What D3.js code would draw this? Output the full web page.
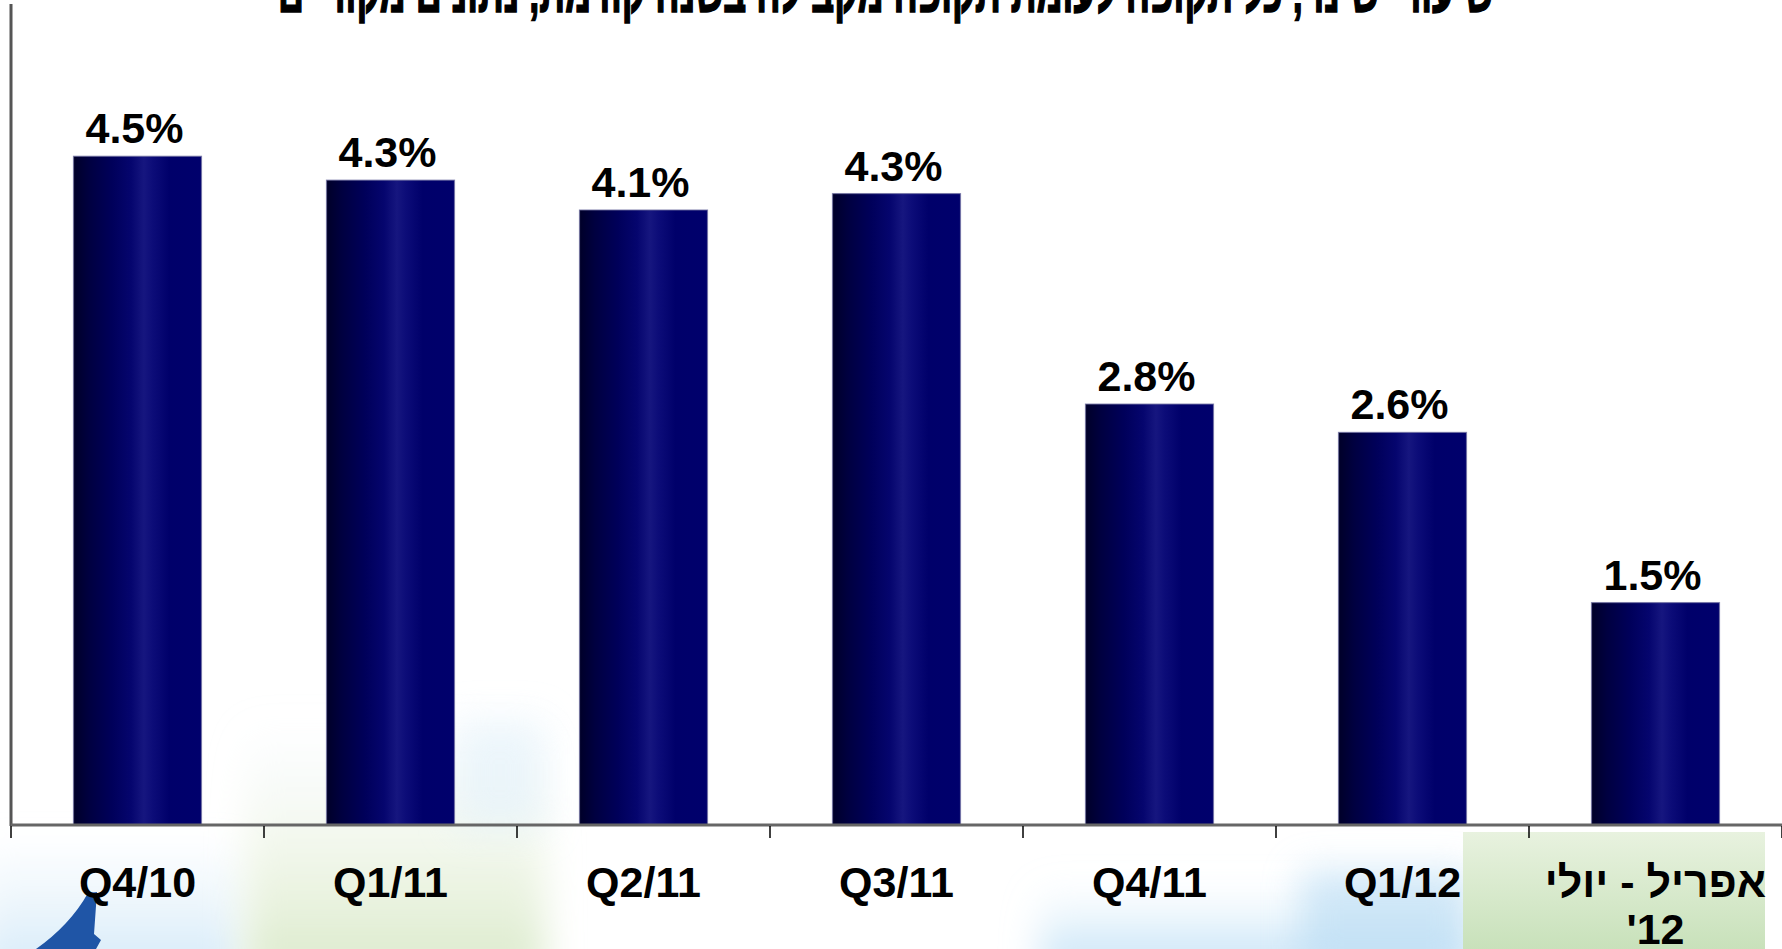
<!DOCTYPE html>
<html>
<head>
<meta charset="utf-8">
<script src="https://cdn.jsdelivr.net/npm/d3@7/dist/d3.min.js"></script>
<style>
  html, body { margin: 0; padding: 0; background: #fff; overflow: hidden; }
  svg { display: block; font-family: "Liberation Sans", Arial, sans-serif; }
</style>
</head>
<body>
<svg id="chart" width="1782" height="949"></svg>
<script>
// ---- data ----
const categories = ["Q4/10", "Q1/11", "Q2/11", "Q3/11", "Q4/11", "Q1/12", "אפריל - יולי|'12"];
const values = [4.48, 4.32, 4.12, 4.23, 2.82, 2.63, 1.49];
const valueLabels = ["4.5%", "4.3%", "4.1%", "4.3%", "2.8%", "2.6%", "1.5%"];
const titleText = "שיעורי שינוי, כל תקופה לעומת תקופה מקבילה בשנה קודמת, נתונים מקוריים";
const yDomain = [0, 5.5];

// ---- layout ----
const W = 1782, H = 949;
const left = 11, right = 1782, baseY = 825, topY = 4;

const svg = d3.select("#chart");
const defs = svg.append("defs");

// bar gradient
const g = defs.append("linearGradient").attr("id", "barGrad")
  .attr("x1", "0").attr("x2", "1").attr("y1", "0").attr("y2", "0");
[[0, "#000028"], [0.12, "#000040"], [0.3, "#00005a"], [0.45, "#05056e"],
 [0.55, "#16167f"], [0.62, "#0c0c78"], [0.75, "#00006a"], [1, "#00006c"]]
  .forEach(([o, c]) => g.append("stop").attr("offset", o).attr("stop-color", c));

// background blur filter (user space, covers the whole picture)
defs.append("filter").attr("id", "soft").attr("filterUnits", "userSpaceOnUse")
  .attr("x", -100).attr("y", -100).attr("width", W + 200).attr("height", H + 200)
  .append("feGaussianBlur").attr("stdDeviation", 18);

const vg = (id, stops) => {
  const lg = defs.append("linearGradient").attr("id", id)
    .attr("x1", "0").attr("x2", "0").attr("y1", "0").attr("y2", "1");
  stops.forEach(([o, c, a]) => lg.append("stop").attr("offset", o).attr("stop-color", c).attr("stop-opacity", a));
};
vg("gGreen", [[0, "#e4f0f6", 0], [0.45, "#e8f1dc", 0.5], [1, "#d8e9c8", 1]]);
vg("gBlue", [[0, "#d8eefa", 0], [1, "#b9dcf4", 1]]);
vg("gGreen2", [[0, "#e8f2df", 1], [1, "#c6e0b8", 1]]);
vg("gBlueL", [[0, "#e6f3fb", 0.2], [1, "#cfe7f7", 1]]);

// ---- decorative background ----
const bg = svg.append("g").attr("class", "background");
bg.append("rect").attr("x", -20).attr("y", 850).attr("width", 260).attr("height", 130)
  .attr("fill", "url(#gBlueL)").attr("filter", "url(#soft)");
bg.append("rect").attr("x", 245).attr("y", 720).attr("width", 300).attr("height", 260)
  .attr("fill", "url(#gGreen)").attr("filter", "url(#soft)");
bg.append("rect").attr("x", 455).attr("y", 720).attr("width", 90).attr("height", 110)
  .attr("fill", "#e2f1fa").attr("opacity", 0.6).attr("filter", "url(#soft)");
bg.append("rect").attr("x", 1040).attr("y", 885).attr("width", 430).attr("height", 90)
  .attr("fill", "url(#gBlue)").attr("filter", "url(#soft)");
bg.append("rect").attr("x", 1300).attr("y", 870).attr("width", 170).attr("height", 100)
  .attr("fill", "#b6daf3").attr("opacity", 0.6).attr("filter", "url(#soft)");
bg.append("rect").attr("x", 1463).attr("y", 832).attr("width", 302).attr("height", 125)
  .attr("fill", "url(#gGreen2)");
bg.append("path")
  .attr("d", "M88,893 L97,892 L94,934 L101,940 L96,949 L36,949 Q70,925 88,893 Z")
  .attr("fill", "#1f55a6");

// ---- scales ----
const x = d3.scaleBand().domain(categories).range([left, right])
  .paddingInner(0.494).paddingOuter(0.247);
const y = d3.scaleLinear().domain(yDomain).range([baseY, topY]);
const step = x.step();
const gap = (step - x.bandwidth()) / 2;

// ---- title ----
svg.append("text")
  .attr("x", 886).attr("y", 12)
  .attr("text-anchor", "middle")
  .attr("direction", "rtl")
  .attr("font-size", 56).attr("font-weight", "bold")
  .attr("textLength", 1216).attr("lengthAdjust", "spacingAndGlyphs")
  .attr("fill", "#000").attr("stroke", "#000").attr("stroke-width", 1.6)
  .text(titleText);

// ---- bars ----
svg.append("g").selectAll("rect").data(values).join("rect")
  .attr("x", (d, i) => x(categories[i]))
  .attr("y", d => y(d))
  .attr("width", x.bandwidth())
  .attr("height", d => y(0) - y(d))
  .attr("fill", "url(#barGrad)")
  .attr("stroke", "#6e6ea0").attr("stroke-width", 1.2).attr("stroke-opacity", 0.7);

// value labels
svg.append("g").selectAll("text").data(values).join("text")
  .attr("x", (d, i) => x(categories[i]) + x.bandwidth() / 2 - 3)
  .attr("y", d => y(d) - 13)
  .attr("text-anchor", "middle")
  .attr("font-size", 43).attr("font-weight", "bold").attr("fill", "#000")
  .text((d, i) => valueLabels[i]);

// ---- axes ----
svg.append("line").attr("x1", left).attr("x2", left).attr("y1", y(yDomain[1])).attr("y2", baseY + 1)
  .attr("stroke", "#555").attr("stroke-width", 3);
svg.append("line").attr("x1", left).attr("x2", right).attr("y1", baseY).attr("y2", baseY)
  .attr("stroke", "#666").attr("stroke-width", 3);

const tickXs = categories.map(c => x(c) - gap).concat([x(categories[categories.length - 1]) + x.bandwidth() + gap]);
svg.append("g").selectAll("line").data(tickXs).join("line")
  .attr("x1", d => d).attr("x2", d => d)
  .attr("y1", baseY + 1).attr("y2", baseY + 13)
  .attr("stroke", "#000").attr("stroke-width", 1.5);

// category labels
const cl = svg.append("g").selectAll("text").data(categories).join("text")
  .attr("x", d => x(d) + x.bandwidth() / 2)
  .attr("y", 897)
  .attr("text-anchor", "middle")
  .attr("font-size", 43).attr("font-weight", "bold").attr("fill", "#000");
cl.each(function(d) {
  const lines = d.split("|");
  const t = d3.select(this);
  lines.forEach((ln, i) => {
    t.append("tspan").attr("x", x(d) + x.bandwidth() / 2).attr("dy", i === 0 ? 0 : 47).text(ln);
  });
});
</script>
</body>
</html>
